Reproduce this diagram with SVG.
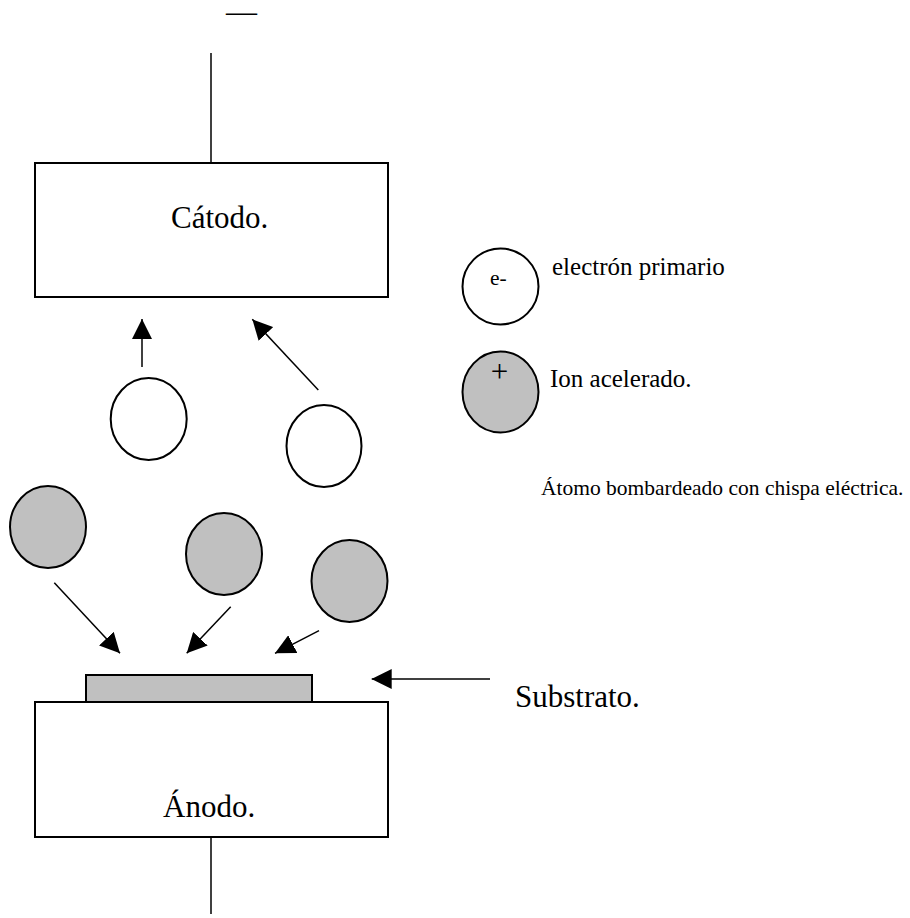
<svg xmlns="http://www.w3.org/2000/svg" width="910" height="918" viewBox="0 0 910 918">
  <style>
    .box { fill: #ffffff; stroke: #000000; stroke-width: 2; }
    .sub { fill: #c0c0c0; stroke: #000000; stroke-width: 2; }
    .electron { fill: #ffffff; stroke: #000000; stroke-width: 2; }
    .ion { fill: #c0c0c0; stroke: #000000; stroke-width: 2; }
    .wire { stroke: #000000; stroke-width: 1.5; fill: none; }
    .arrow { stroke: #000000; stroke-width: 1.5; fill: none; marker-end: url(#head); }
    .big { font-family: "Liberation Serif", "Times New Roman", serif; font-size: 31px; fill: #000000; }
    .mid { font-family: "Liberation Serif", "Times New Roman", serif; font-size: 25px; fill: #000000; }
    .small { font-family: "Liberation Serif", "Times New Roman", serif; font-size: 21.5px; fill: #000000; }
  </style>
  <defs>
    <marker id="head" markerUnits="userSpaceOnUse" markerWidth="20" markerHeight="20" refX="20" refY="10" orient="auto">
      <path d="M0,0 L20,10 L0,20 Z" fill="#000000"/>
    </marker>
  </defs>
  <rect width="910" height="918" fill="#ffffff"/>

  <!-- supply leads and polarity mark -->
  <g id="leads">
    <text class="big" x="226" y="22" font-size="17">—</text>
    <line class="wire" x1="211" y1="53" x2="211" y2="163"/>
    <line class="wire" x1="211" y1="837" x2="211" y2="914"/>
  </g>

  <!-- cathode -->
  <g id="catodo">
    <rect class="box" x="35" y="163" width="353" height="134"/>
    <text class="big" x="171" y="228">Cátodo.</text>
  </g>

  <!-- anode with substrate on top -->
  <g id="anodo">
    <rect class="box" x="35" y="702" width="353" height="135"/>
    <text class="big" x="163" y="817">Ánodo.</text>
  </g>
  <g id="substrato">
    <rect class="sub" x="86" y="675" width="226" height="27"/>
  </g>
  <g id="substrato-label">
    <text class="big" x="515" y="707">Substrato.</text>
  </g>

  <!-- primary electrons -->
  <g id="electron-1"><ellipse class="electron" cx="148.7" cy="419" rx="38" ry="41"/></g>
  <g id="electron-2"><ellipse class="electron" cx="324" cy="446" rx="37.5" ry="41"/></g>

  <!-- accelerated ions -->
  <g id="ion-1"><ellipse class="ion" cx="48" cy="527" rx="38" ry="41"/></g>
  <g id="ion-2"><ellipse class="ion" cx="224" cy="554" rx="38" ry="41"/></g>
  <g id="ion-3"><ellipse class="ion" cx="349.5" cy="581" rx="38" ry="41"/></g>

  <!-- legend -->
  <g id="legend-electron">
    <ellipse class="electron" cx="500.5" cy="286.5" rx="38" ry="38"/>
    <text class="small" x="490" y="285" font-size="21">e-</text>
    <text class="mid" x="552" y="275">electrón primario</text>
  </g>
  <g id="legend-ion">
    <ellipse class="ion" cx="500.5" cy="392" rx="38" ry="40.5"/>
    <text class="big" x="499.5" y="382" text-anchor="middle" font-size="30">+</text>
    <text class="mid" x="550" y="387">Ion acelerado.</text>
  </g>
  <g id="legend-atom">
    <text class="small" x="541" y="495">Átomo bombardeado con chispa eléctrica.</text>
  </g>

  <!-- connectors -->
  <g id="connectors">
    <line class="arrow" x1="142" y1="367" x2="142" y2="319"/>
    <line class="arrow" x1="318.3" y1="390" x2="252.3" y2="319.3"/>
    <line class="arrow" x1="54.3" y1="582.7" x2="120" y2="653.3"/>
    <line class="arrow" x1="230.7" y1="606.7" x2="186.7" y2="653.3"/>
    <line class="arrow" x1="319" y1="630.7" x2="275" y2="653.3"/>
    <line class="arrow" x1="490" y1="679" x2="371.7" y2="679"/>
  </g>
</svg>
